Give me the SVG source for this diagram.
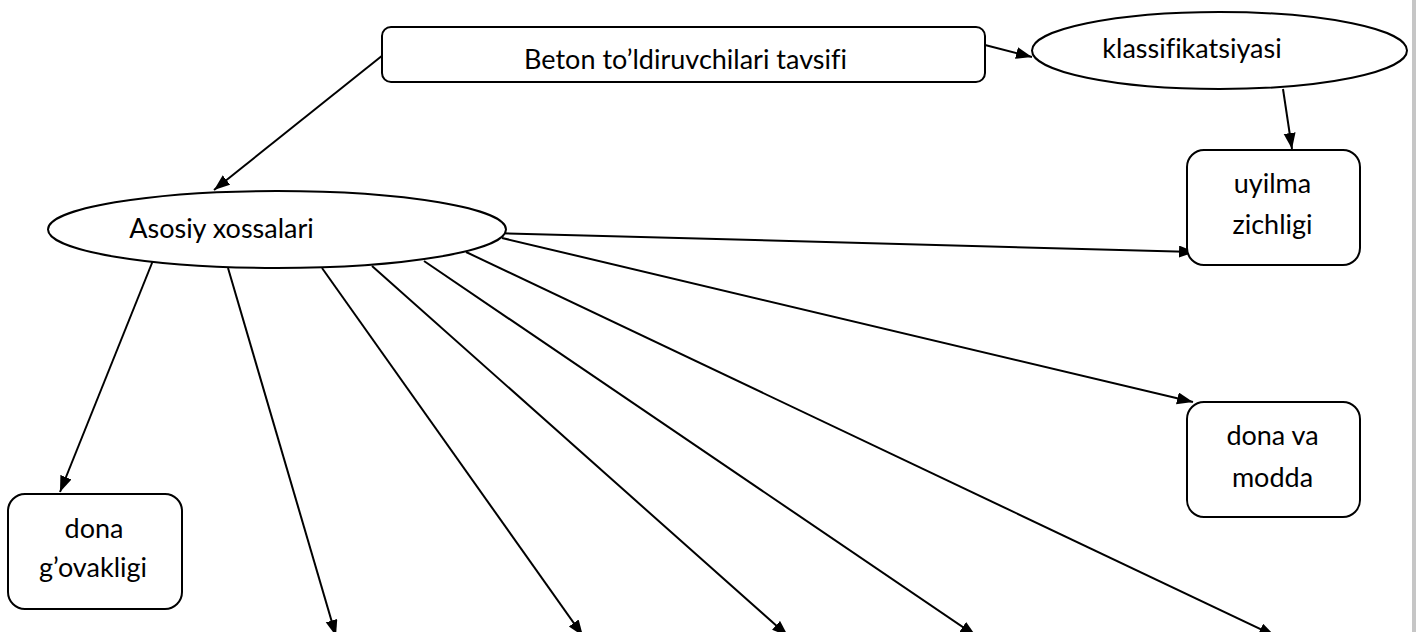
<svg xmlns="http://www.w3.org/2000/svg" width="1416" height="632" viewBox="0 0 1416 632">
  <style>
    .shape { fill: #ffffff; stroke: #000000; stroke-width: 2; }
    .label { font-family: Lato, "Liberation Sans", sans-serif; font-size: 27px; fill: #000000; text-anchor: middle; font-variant-ligatures: none; }
    .edge { stroke: #000000; stroke-width: 2; fill: none; marker-end: url(#arrow); }
  </style>
  <defs>
    <marker id="arrow" markerUnits="userSpaceOnUse" markerWidth="17" markerHeight="13" refX="16" refY="6" orient="auto">
      <path d="M0,0 L16,6 L0,12 Z" fill="#000000"/>
    </marker>
  </defs>

  <rect x="0" y="0" width="1416" height="632" fill="#ffffff"/>
  <!-- page edge on the right -->
  <rect x="1412" y="0" width="4" height="632" fill="#c6c6c6"/>

  <!-- connectors -->
  <g id="connectors">
    <line class="edge" x1="383" y1="55" x2="214" y2="190"/>
    <line class="edge" x1="985" y1="45" x2="1032" y2="57"/>
    <line class="edge" x1="1283" y1="89" x2="1292" y2="149"/>
    <line class="edge" x1="491" y1="233" x2="1195" y2="252"/>
    <line class="edge" x1="502" y1="238" x2="1193" y2="402"/>
    <line class="edge" x1="154" y1="258" x2="60" y2="492"/>
    <line class="edge" x1="228" y1="268" x2="336" y2="636"/>
    <line class="edge" x1="322" y1="268" x2="583" y2="636"/>
    <line class="edge" x1="372" y1="266" x2="788" y2="636"/>
    <line class="edge" x1="424" y1="261" x2="976" y2="636"/>
    <line class="edge" x1="466" y1="252" x2="1275" y2="636"/>
  </g>

  <g id="node-beton">
    <rect class="shape" x="382" y="27" width="603" height="55" rx="9"/>
    <text class="label" x="685.5" y="69">Beton to’ldiruvchilari tavsifi</text>
  </g>

  <g id="node-klassifikatsiyasi">
    <ellipse class="shape" cx="1219.5" cy="50.5" rx="187.5" ry="38.5"/>
    <text class="label" x="1192" y="58">klassifikatsiyasi</text>
  </g>

  <g id="node-asosiy">
    <ellipse class="shape" cx="277" cy="229.5" rx="229" ry="38.5"/>
    <text class="label" x="221.5" y="238">Asosiy xossalari</text>
  </g>

  <g id="node-uyilma">
    <rect class="shape" x="1187" y="150" width="173" height="115" rx="17"/>
    <text class="label" x="1272.5" y="193">uyilma</text>
    <text class="label" x="1272.5" y="234">zichligi</text>
  </g>

  <g id="node-dona-modda">
    <rect class="shape" x="1187" y="402" width="173" height="115" rx="17"/>
    <text class="label" x="1272.5" y="445">dona va</text>
    <text class="label" x="1272.5" y="487">modda</text>
  </g>

  <g id="node-dona-govakligi">
    <rect class="shape" x="8" y="494" width="174" height="115" rx="17"/>
    <text class="label" x="94" y="538">dona</text>
    <text class="label" x="93" y="577">g’ovakligi</text>
  </g>
</svg>
